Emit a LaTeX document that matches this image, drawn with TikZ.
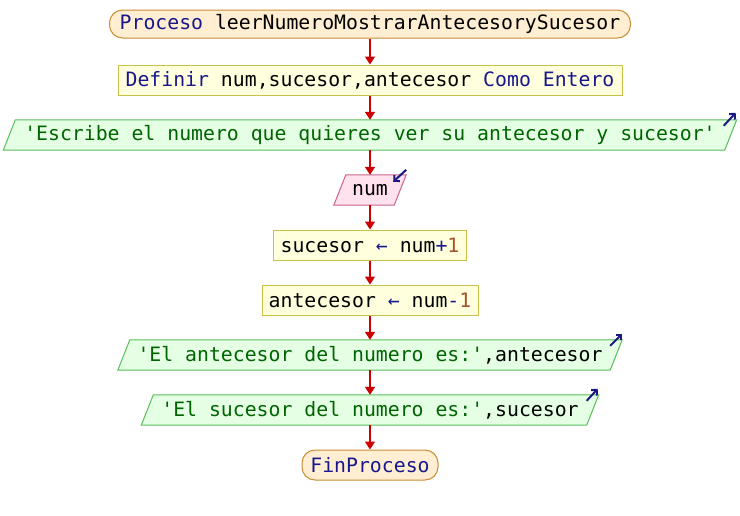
\documentclass[tikz,border=0pt]{standalone}
\usepackage{fontspec}
\setmonofont{DejaVu Sans Mono}
\usetikzlibrary{arrows.meta,calc}

\definecolor{kw}{RGB}{24,24,140}
\definecolor{strc}{RGB}{0,100,0}
\definecolor{numc}{RGB}{165,85,45}
\definecolor{flow}{RGB}{204,0,0}
\definecolor{termfill}{RGB}{255,238,210}
\definecolor{termdraw}{RGB}{200,140,50}
\definecolor{stepfill}{RGB}{255,255,222}
\definecolor{stepdraw}{RGB}{200,195,70}
\definecolor{outfill}{RGB}{228,255,228}
\definecolor{outdraw}{RGB}{90,190,90}
\definecolor{infill}{RGB}{255,226,238}
\definecolor{indraw}{RGB}{200,100,136}
\definecolor{iconc}{RGB}{26,26,128}

\newcommand\kw[1]{\textcolor{kw}{#1}}
\newcommand\str[1]{\textcolor{strc}{#1}}
\newcommand\nm[1]{\textcolor{numc}{#1}}

% parallelogram outline around a named node: name, slant, fill, draw
\newcommand\ioshape[4]{%
  \filldraw[fill=#3,draw=#4,line width=1pt]
    ($(#1.south west)+(-#2/2,0)$) -- ($(#1.north west)+(#2/2,0)$) --
    ($(#1.north east)+(#2/2,0)$) -- ($(#1.south east)+(-#2/2,0)$) -- cycle;}

\tikzset{
  txt/.style={font=\ttfamily\fontsize{19.8}{22}\selectfont, inner sep=0pt,
              minimum height=30pt, align=center},
  termbox/.style={txt, draw=termdraw, fill=termfill, line width=1pt,
                  rounded corners=13pt},
  stepbox/.style={txt, draw=stepdraw, fill=stepfill, line width=1pt},
  iobox/.style={txt},
  flowline/.style={draw=flow, line width=1.6pt,
                   -{Triangle[length=8pt,width=10pt]}},
  icon/.style={draw=iconc, line width=2pt,
               -{Straight Barb[length=4pt,width=8pt,line width=2pt]}}
}

\begin{document}
\begin{tikzpicture}[x=1pt,y=-1pt]
\useasboundingbox (0,0) rectangle (740,515);

% process blocks
\node[termbox, minimum width=521pt, minimum height=28pt] (p0) at (370,24)
  {\kw{Proceso} leerNumeroMostrarAntecesorySucesor};
\node[stepbox, minimum width=504pt] (p1) at (370,80)
  {\kw{Definir} num,sucesor,antecesor \kw{Como Entero}};

% input / output blocks (outline drawn before the text)
\path (370,135) node[iobox, minimum width=721pt] (p2) {};
\ioshape{p2}{12}{outfill}{outdraw}
\node[txt] at (p2) {\str{'Escribe el numero que quieres ver su antecesor y sucesor'}};

\path (370,190) node[iobox, minimum width=60pt] (p3) {};
\ioshape{p3}{12}{infill}{indraw}
\node[txt] at (p3) {num};

\node[stepbox, minimum width=193pt] (p4) at (370,245)
  {sucesor \kw{←} num\kw{+}\nm{1}};
\node[stepbox, minimum width=216pt] (p5) at (370,300)
  {antecesor \kw{←} num\kw{-}\nm{1}};

\path (370,355) node[iobox, minimum width=492pt] (p6) {};
\ioshape{p6}{12}{outfill}{outdraw}
\node[txt] at (p6) {\str{'El antecesor del numero es:'},antecesor};

\path (370,410) node[iobox, minimum width=445pt] (p7) {};
\ioshape{p7}{12}{outfill}{outdraw}
\node[txt] at (p7) {\str{'El sucesor del numero es:'},sucesor};

\node[termbox, minimum width=136pt] (p8) at (370,465) {\kw{FinProceso}};

% flow connectors
\foreach \a/\b in {p0/p1,p1/p2,p2/p3,p3/p4,p4/p5,p5/p6,p6/p7,p7/p8}
  \draw[flowline] (\a.south) -- (\b.north);

% read / write markers
\coordinate (w2a) at ($(p2.north east)+(-7,6)$);
\coordinate (w2b) at ($(p2.north east)+(5,-7)$);
\draw[icon] (w2a) -- (w2b);
\coordinate (r3a) at ($(p3.north east)+(6,-5)$);
\coordinate (r3b) at ($(p3.north east)+(-7,7)$);
\draw[icon] (r3a) -- (r3b);
\coordinate (w6a) at ($(p6.north east)+(-6,6)$);
\coordinate (w6b) at ($(p6.north east)+(6,-6)$);
\draw[icon] (w6a) -- (w6b);
\coordinate (w7a) at ($(p7.north east)+(-6,6)$);
\coordinate (w7b) at ($(p7.north east)+(5,-6)$);
\draw[icon] (w7a) -- (w7b);
\end{tikzpicture}
\end{document}
